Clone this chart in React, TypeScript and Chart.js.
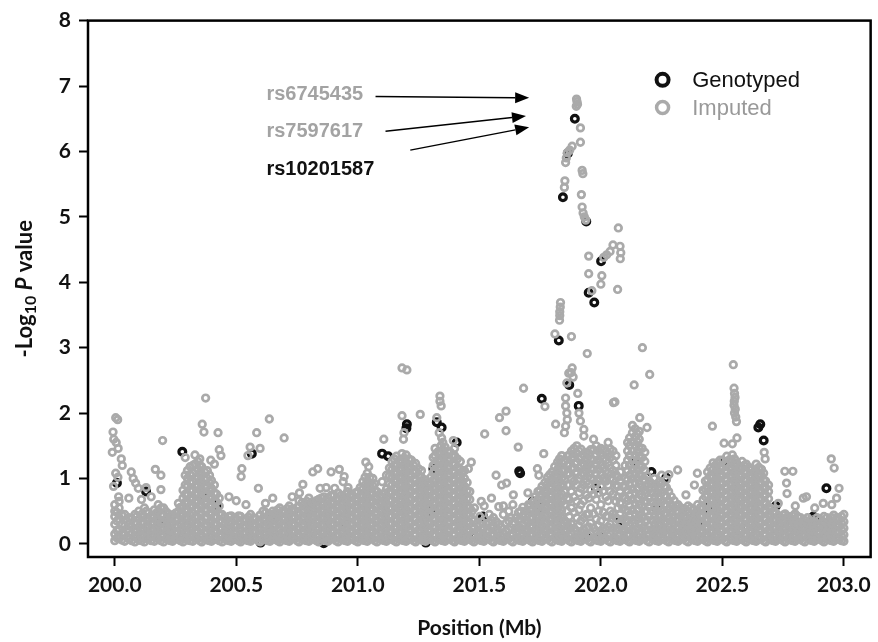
import React, { useEffect, useRef } from "react";
import { Chart, registerables } from "chart.js";

Chart.register(...registerables);

// ---------- Data ----------
// x: position in Mb, y: -log10 P

const xTickValues = [200.0, 200.5, 201.0, 201.5, 202.0, 202.5, 203.0];
const yTickValues = [0, 1, 2, 3, 4, 5, 6, 7, 8];

// Dense background band of imputed SNPs: [position, logP values...]
const bandCols200: number[][] = [
  [200.0, 0.05, 0.15, 0.3, 0.42, 0.5, 0.6],
  [200.018, 0.1, 0.22, 0.38, 0.55, 0.65],
  [200.041, 0.04, 0.14, 0.28, 0.45],
  [200.058, 0.08, 0.18, 0.3, 0.4],
  [200.083, 0.03, 0.12, 0.22, 0.33, 0.45],
  [200.099, 0.06, 0.16, 0.26, 0.38, 0.5],
  [200.122, 0.03, 0.13, 0.22, 0.32, 0.42, 0.55],
  [200.138, 0.07, 0.17, 0.27, 0.36, 0.47],
  [200.163, 0.04, 0.12, 0.21, 0.31, 0.42, 0.52],
  [200.179, 0.08, 0.18, 0.28, 0.38, 0.5, 0.6],
  [200.201, 0.03, 0.13, 0.23, 0.33, 0.44, 0.55],
  [200.222, 0.06, 0.15, 0.25, 0.36, 0.46],
  [200.238, 0.04, 0.12, 0.22, 0.32, 0.42],
  [200.262, 0.07, 0.17, 0.27, 0.38, 0.5, 0.62],
  [200.281, 0.03, 0.13, 0.24, 0.35, 0.46, 0.58, 0.7, 0.82],
  [200.299, 0.06, 0.16, 0.27, 0.38, 0.5, 0.62, 0.75, 0.88, 1.0, 1.12],
  [200.321, 0.04, 0.14, 0.25, 0.36, 0.47, 0.58, 0.7, 0.82, 0.95, 1.08, 1.2],
  [200.342, 0.08, 0.19, 0.3, 0.41, 0.53, 0.65, 0.77, 0.9, 1.02, 1.15, 1.26],
  [200.358, 0.03, 0.13, 0.24, 0.35, 0.46, 0.57, 0.68, 0.8, 0.92, 1.05, 1.18],
  [200.381, 0.06, 0.17, 0.28, 0.4, 0.52, 0.64, 0.76, 0.88, 1.0, 1.12],
  [200.398, 0.04, 0.15, 0.26, 0.37, 0.48, 0.6, 0.72, 0.85, 0.97],
  [200.419, 0.07, 0.18, 0.29, 0.4, 0.52, 0.64, 0.76],
  [200.442, 0.03, 0.13, 0.23, 0.34, 0.45],
  [200.461, 0.06, 0.16, 0.26, 0.37],
  [200.479, 0.04, 0.13, 0.23, 0.33, 0.43],
  [200.502, 0.07, 0.17, 0.27, 0.38],
  [200.518, 0.03, 0.12, 0.22, 0.32, 0.42],
  [200.541, 0.06, 0.16, 0.26, 0.36],
  [200.559, 0.04, 0.14, 0.24, 0.34, 0.45],
  [200.582, 0.08, 0.18, 0.28, 0.38],
  [200.598, 0.03, 0.13, 0.23, 0.33, 0.44],
  [200.621, 0.06, 0.16, 0.26, 0.37, 0.48],
  [200.639, 0.04, 0.14, 0.24, 0.35, 0.45],
  [200.662, 0.07, 0.17, 0.28, 0.38, 0.48],
  [200.679, 0.03, 0.13, 0.23, 0.34, 0.45, 0.55],
  [200.701, 0.06, 0.16, 0.27, 0.38, 0.49],
  [200.718, 0.04, 0.14, 0.25, 0.36, 0.47, 0.58],
  [200.742, 0.08, 0.18, 0.29, 0.4, 0.51],
  [200.758, 0.03, 0.13, 0.24, 0.35, 0.46, 0.57, 0.66],
  [200.781, 0.06, 0.17, 0.28, 0.39, 0.5, 0.61],
  [200.799, 0.04, 0.15, 0.26, 0.37, 0.48, 0.59, 0.7],
  [200.822, 0.07, 0.18, 0.29, 0.4, 0.51, 0.62],
  [200.839, 0.03, 0.14, 0.25, 0.36, 0.47, 0.58, 0.68],
  [200.861, 0.06, 0.17, 0.28, 0.39, 0.5, 0.61, 0.72],
  [200.878, 0.04, 0.15, 0.26, 0.37, 0.48, 0.59, 0.7],
  [200.902, 0.08, 0.19, 0.3, 0.41, 0.52, 0.63, 0.74],
  [200.919, 0.03, 0.14, 0.25, 0.36, 0.47, 0.58, 0.69, 0.78],
  [200.941, 0.06, 0.17, 0.28, 0.39, 0.5, 0.61, 0.72],
  [200.958, 0.04, 0.15, 0.26, 0.37, 0.48, 0.59, 0.7, 0.8],
  [200.981, 0.07, 0.18, 0.29, 0.4, 0.51, 0.62, 0.73],
];

const bandFill200: number[][] = [
  [200.009, 0.09, 0.2, 0.35, 0.48],
  [200.029, 0.06, 0.16, 0.3, 0.44],
  [200.05, 0.1, 0.22, 0.35],
  [200.07, 0.05, 0.15, 0.26, 0.38],
  [200.09, 0.09, 0.19, 0.3, 0.42],
  [200.11, 0.05, 0.11, 0.21, 0.32, 0.45],
  [200.13, 0.08, 0.18, 0.27, 0.38, 0.5],
  [200.15, 0.05, 0.12, 0.22, 0.32, 0.42],
  [200.17, 0.09, 0.17, 0.26, 0.37, 0.47],
  [200.19, 0.05, 0.13, 0.23, 0.33, 0.44, 0.55],
  [200.21, 0.08, 0.18, 0.28, 0.38, 0.5],
  [200.23, 0.05, 0.1, 0.2, 0.3, 0.41],
  [200.25, 0.09, 0.17, 0.27, 0.37, 0.47],
  [200.27, 0.05, 0.12, 0.22, 0.32, 0.44, 0.56],
  [200.29, 0.08, 0.18, 0.29, 0.4, 0.52, 0.64, 0.76, 0.9, 1.05],
  [200.31, 0.05, 0.11, 0.21, 0.32, 0.44, 0.56, 0.68, 0.81, 0.94, 1.06, 1.18],
  [200.33, 0.09, 0.19, 0.3, 0.41, 0.52, 0.64, 0.76, 0.88, 1.0, 1.12, 1.22],
  [200.35, 0.05, 0.13, 0.24, 0.35, 0.47, 0.59, 0.71, 0.83, 0.96, 1.08, 1.2],
  [200.37, 0.08, 0.18, 0.29, 0.4, 0.51, 0.62, 0.74, 0.86, 0.98, 1.1],
  [200.39, 0.05, 0.11, 0.22, 0.33, 0.46, 0.58, 0.7, 0.82, 0.94, 1.05],
  [200.41, 0.09, 0.2, 0.31, 0.42, 0.54, 0.66, 0.78, 0.9],
  [200.43, 0.05, 0.12, 0.23, 0.35, 0.46, 0.58, 0.7],
  [200.45, 0.08, 0.18, 0.29, 0.4],
  [200.47, 0.05, 0.11, 0.21, 0.31, 0.42],
  [200.49, 0.09, 0.18, 0.28, 0.38],
  [200.51, 0.05, 0.12, 0.22, 0.33, 0.43],
  [200.53, 0.08, 0.17, 0.27, 0.37],
  [200.55, 0.05, 0.11, 0.21, 0.31, 0.41],
  [200.57, 0.09, 0.19, 0.29, 0.4],
  [200.59, 0.05, 0.13, 0.23, 0.33],
  [200.61, 0.08, 0.18, 0.28, 0.39, 0.5],
  [200.63, 0.05, 0.11, 0.21, 0.31, 0.42],
  [200.65, 0.09, 0.19, 0.29, 0.4, 0.5],
  [200.67, 0.05, 0.12, 0.22, 0.33, 0.43, 0.52],
  [200.69, 0.08, 0.18, 0.29, 0.4, 0.5],
  [200.71, 0.05, 0.11, 0.21, 0.32, 0.43, 0.54],
  [200.73, 0.09, 0.2, 0.31, 0.42, 0.53],
  [200.75, 0.05, 0.13, 0.24, 0.35, 0.46, 0.56],
  [200.77, 0.08, 0.19, 0.3, 0.41, 0.52, 0.63],
  [200.79, 0.05, 0.12, 0.22, 0.33, 0.44, 0.55, 0.65],
  [200.81, 0.09, 0.2, 0.31, 0.42, 0.53, 0.64],
  [200.83, 0.05, 0.12, 0.23, 0.34, 0.45, 0.56, 0.66],
  [200.85, 0.08, 0.19, 0.3, 0.41, 0.52, 0.63, 0.7],
  [200.87, 0.05, 0.11, 0.22, 0.33, 0.44, 0.55, 0.66],
  [200.89, 0.09, 0.2, 0.31, 0.42, 0.53, 0.64, 0.74],
  [200.91, 0.05, 0.13, 0.24, 0.35, 0.46, 0.57, 0.68],
  [200.93, 0.08, 0.19, 0.3, 0.41, 0.52, 0.63, 0.74],
  [200.95, 0.05, 0.11, 0.22, 0.33, 0.44, 0.55, 0.66, 0.76],
  [200.97, 0.09, 0.2, 0.31, 0.42, 0.53, 0.64, 0.74],
  [200.99, 0.05, 0.13, 0.24, 0.35, 0.46, 0.57, 0.68, 0.78],
];

const bandCols201: number[][] = [
  [201.0, 0.03, 0.14, 0.25, 0.36, 0.47, 0.58, 0.69, 0.8],
  [201.021, 0.06, 0.17, 0.28, 0.39, 0.5, 0.61, 0.72, 0.84, 0.95],
  [201.039, 0.04, 0.15, 0.26, 0.37, 0.48, 0.6, 0.72, 0.84, 0.96, 1.08],
  [201.062, 0.08, 0.19, 0.3, 0.41, 0.53, 0.65, 0.77, 0.89, 1.0],
  [201.079, 0.03, 0.14, 0.25, 0.36, 0.47, 0.58, 0.7, 0.8],
  [201.101, 0.06, 0.17, 0.28, 0.39, 0.5, 0.61, 0.72],
  [201.118, 0.04, 0.15, 0.26, 0.37, 0.48, 0.6, 0.72, 0.84],
  [201.141, 0.07, 0.18, 0.3, 0.42, 0.54, 0.66, 0.78, 0.9, 1.02, 1.14, 1.26],
  [201.159, 0.03, 0.14, 0.26, 0.38, 0.5, 0.62, 0.74, 0.86, 0.98, 1.1, 1.22, 1.34],
  [201.182, 0.06, 0.17, 0.29, 0.41, 0.53, 0.65, 0.77, 0.89, 1.01, 1.13, 1.25, 1.38],
  [201.199, 0.04, 0.16, 0.28, 0.4, 0.52, 0.64, 0.76, 0.88, 1.0, 1.12, 1.24, 1.36],
  [201.221, 0.08, 0.2, 0.32, 0.44, 0.56, 0.68, 0.8, 0.92, 1.04, 1.16, 1.28],
  [201.238, 0.03, 0.15, 0.27, 0.39, 0.51, 0.63, 0.75, 0.87, 0.99, 1.11, 1.23],
  [201.262, 0.06, 0.18, 0.3, 0.42, 0.54, 0.66, 0.78, 0.9, 1.02, 1.12],
  [201.279, 0.04, 0.16, 0.28, 0.4, 0.52, 0.64, 0.76, 0.88, 0.98],
  [201.301, 0.07, 0.19, 0.31, 0.43, 0.55, 0.67, 0.79, 0.9, 1.02],
  [201.318, 0.03, 0.15, 0.27, 0.39, 0.51, 0.63, 0.75, 0.87, 0.99, 1.11, 1.23, 1.35, 1.46],
  [201.342, 0.06, 0.18, 0.3, 0.42, 0.54, 0.66, 0.78, 0.9, 1.02, 1.14, 1.26, 1.38, 1.5],
  [201.359, 0.04, 0.16, 0.28, 0.4, 0.52, 0.64, 0.76, 0.88, 1.0, 1.12, 1.24, 1.36, 1.48],
  [201.381, 0.08, 0.2, 0.32, 0.44, 0.56, 0.68, 0.8, 0.92, 1.04, 1.16, 1.28, 1.4],
  [201.398, 0.03, 0.15, 0.27, 0.39, 0.51, 0.63, 0.75, 0.87, 0.99, 1.11, 1.23, 1.35, 1.46],
  [201.422, 0.06, 0.18, 0.3, 0.42, 0.54, 0.66, 0.78, 0.9, 1.02, 1.14, 1.26],
  [201.439, 0.04, 0.16, 0.28, 0.4, 0.52, 0.64, 0.76, 0.88, 1.0, 1.12],
  [201.461, 0.07, 0.19, 0.31, 0.43, 0.55, 0.68, 0.8],
  [201.478, 0.03, 0.13, 0.24, 0.35],
  [201.502, 0.06, 0.17, 0.3, 0.42],
  [201.519, 0.04, 0.14, 0.25],
  [201.541, 0.08, 0.2, 0.33, 0.45],
  [201.558, 0.03, 0.15, 0.28, 0.4],
  [201.582, 0.06, 0.18, 0.3],
  [201.599, 0.04, 0.16, 0.45, 0.58],
  [201.621, 0.08, 0.22, 0.35, 0.5],
  [201.638, 0.03, 0.14, 0.3, 0.6],
  [201.661, 0.06, 0.2, 0.36, 0.48],
  [201.679, 0.04, 0.17, 0.3, 0.43, 0.56],
  [201.702, 0.07, 0.2, 0.33, 0.46, 0.6],
  [201.719, 0.03, 0.15, 0.28, 0.4, 0.52, 0.64],
  [201.741, 0.06, 0.18, 0.3, 0.42, 0.55, 0.68, 0.8],
  [201.758, 0.04, 0.16, 0.28, 0.4, 0.52, 0.64, 0.76, 0.88],
  [201.781, 0.08, 0.2, 0.32, 0.44, 0.56, 0.68, 0.8, 0.92, 1.02],
  [201.799, 0.03, 0.15, 0.27, 0.39, 0.51, 0.63, 0.75, 0.87, 0.99, 1.1],
  [201.822, 0.06, 0.18, 0.3, 0.42, 0.54, 0.66, 0.78, 0.9, 1.02, 1.14, 1.25],
  [201.839, 0.04, 0.16, 0.28, 0.4, 0.52, 0.64, 0.76, 0.88, 1.0, 1.12, 1.24, 1.35],
  [201.862, 0.08, 0.2, 0.32, 0.5, 0.7, 0.9, 1.06, 1.2, 1.34],
  [201.879, 0.03, 0.15, 0.3, 0.55, 0.8, 1.0, 1.15, 1.3, 1.42],
  [201.901, 0.06, 0.2, 0.4, 0.65, 0.9, 1.1, 1.25, 1.38, 1.5],
  [201.918, 0.04, 0.18, 0.35, 0.6, 0.85, 1.05, 1.2, 1.33, 1.45],
  [201.941, 0.08, 0.24, 0.45, 0.75, 0.95, 1.12, 1.26, 1.4],
  [201.958, 0.03, 0.16, 0.32, 0.55, 0.82, 1.0, 1.15, 1.3, 1.44],
  [201.981, 0.06, 0.2, 0.38, 0.68, 0.92, 1.08, 1.22, 1.36, 1.5],
];

const bandFill201: number[][] = [
  [201.01, 0.08, 0.19, 0.3, 0.41, 0.52, 0.63, 0.74, 0.86],
  [201.03, 0.05, 0.11, 0.22, 0.33, 0.44, 0.55, 0.66, 0.78, 0.9, 1.02],
  [201.05, 0.09, 0.2, 0.31, 0.42, 0.54, 0.66, 0.78, 0.9, 1.02],
  [201.07, 0.05, 0.13, 0.24, 0.35, 0.46, 0.58, 0.7, 0.82, 0.92],
  [201.09, 0.08, 0.19, 0.3, 0.41, 0.52, 0.63, 0.74],
  [201.11, 0.05, 0.11, 0.22, 0.33, 0.44, 0.55, 0.66, 0.78],
  [201.13, 0.09, 0.2, 0.32, 0.44, 0.56, 0.68, 0.8, 0.92, 1.04, 1.16],
  [201.15, 0.05, 0.12, 0.24, 0.36, 0.48, 0.6, 0.72, 0.84, 0.96, 1.08, 1.2, 1.3],
  [201.17, 0.08, 0.2, 0.32, 0.44, 0.56, 0.68, 0.8, 0.92, 1.04, 1.16, 1.28],
  [201.19, 0.05, 0.11, 0.23, 0.35, 0.47, 0.59, 0.71, 0.83, 0.95, 1.07, 1.19, 1.31],
  [201.21, 0.09, 0.22, 0.34, 0.46, 0.58, 0.7, 0.82, 0.94, 1.06, 1.18, 1.3],
  [201.23, 0.05, 0.14, 0.26, 0.38, 0.5, 0.62, 0.74, 0.86, 0.98, 1.1, 1.2],
  [201.25, 0.08, 0.21, 0.33, 0.45, 0.57, 0.69, 0.81, 0.93, 1.05, 1.15],
  [201.27, 0.05, 0.12, 0.24, 0.36, 0.48, 0.6, 0.72, 0.84, 0.94],
  [201.29, 0.09, 0.22, 0.34, 0.46, 0.58, 0.7, 0.82, 0.94],
  [201.31, 0.05, 0.13, 0.25, 0.37, 0.49, 0.61, 0.73, 0.85, 0.97, 1.09, 1.2, 1.32],
  [201.33, 0.08, 0.21, 0.33, 0.45, 0.57, 0.69, 0.81, 0.93, 1.05, 1.17, 1.29, 1.41],
  [201.35, 0.05, 0.12, 0.24, 0.36, 0.48, 0.6, 0.72, 0.84, 0.96, 1.08, 1.2, 1.32, 1.44],
  [201.37, 0.09, 0.22, 0.34, 0.46, 0.58, 0.7, 0.82, 0.94, 1.06, 1.18, 1.3, 1.42],
  [201.39, 0.05, 0.14, 0.26, 0.38, 0.5, 0.62, 0.74, 0.86, 0.98, 1.1, 1.22, 1.34],
  [201.41, 0.08, 0.21, 0.33, 0.45, 0.57, 0.69, 0.81, 0.93, 1.05, 1.17, 1.3],
  [201.43, 0.05, 0.12, 0.24, 0.36, 0.48, 0.6, 0.72, 0.84, 0.96, 1.08],
  [201.45, 0.09, 0.22, 0.34, 0.46, 0.58, 0.7, 0.82, 0.94],
  [201.47, 0.05, 0.14, 0.26, 0.38, 0.5],
  [201.49, 0.08, 0.19, 0.3],
  [201.51, 0.05, 0.11, 0.22, 0.34],
  [201.53, 0.09, 0.2, 0.31],
  [201.55, 0.05, 0.12, 0.24, 0.36],
  [201.57, 0.09, 0.22, 0.34],
  [201.59, 0.05, 0.11, 0.25],
  [201.61, 0.08, 0.2, 0.32],
  [201.63, 0.05, 0.12, 0.25, 0.4],
  [201.65, 0.09, 0.24, 0.4],
  [201.67, 0.05, 0.12, 0.24, 0.38, 0.5],
  [201.69, 0.08, 0.22, 0.36, 0.5],
  [201.71, 0.05, 0.12, 0.25, 0.38, 0.5, 0.6],
  [201.73, 0.09, 0.22, 0.35, 0.48, 0.6, 0.72],
  [201.75, 0.05, 0.12, 0.24, 0.36, 0.48, 0.6, 0.72, 0.82],
  [201.77, 0.08, 0.22, 0.34, 0.46, 0.58, 0.7, 0.82, 0.94],
  [201.79, 0.05, 0.12, 0.24, 0.36, 0.48, 0.6, 0.72, 0.84, 0.96, 1.06],
  [201.81, 0.09, 0.21, 0.33, 0.45, 0.57, 0.69, 0.81, 0.93, 1.05, 1.18],
  [201.83, 0.05, 0.12, 0.24, 0.36, 0.48, 0.6, 0.72, 0.84, 0.96, 1.08, 1.2, 1.3],
  [201.85, 0.08, 0.22, 0.36, 0.6, 0.8, 0.98, 1.12, 1.26],
  [201.87, 0.05, 0.12, 0.25, 0.42, 0.68, 0.9, 1.08, 1.22, 1.36],
  [201.89, 0.09, 0.24, 0.48, 0.72, 0.96, 1.16, 1.32, 1.46],
  [201.91, 0.05, 0.12, 0.28, 0.52, 0.78, 1.0, 1.16, 1.3, 1.42],
  [201.93, 0.08, 0.22, 0.4, 0.66, 0.9, 1.08, 1.22, 1.36],
  [201.95, 0.05, 0.12, 0.26, 0.46, 0.7, 0.92, 1.08, 1.22, 1.38],
  [201.97, 0.09, 0.24, 0.46, 0.76, 0.98, 1.14, 1.28, 1.44],
  [201.99, 0.05, 0.12, 0.28, 0.5, 0.78, 0.98, 1.14, 1.28, 1.42],
];

const bandCols202: number[][] = [
  [202.0, 0.04, 0.18, 0.35, 0.6, 0.88, 1.05, 1.2, 1.34, 1.46],
  [202.021, 0.08, 0.22, 0.42, 0.72, 0.96, 1.12, 1.28, 1.42],
  [202.039, 0.03, 0.15, 0.3, 0.5, 0.8, 1.0, 1.16, 1.32, 1.45],
  [202.062, 0.06, 0.2, 0.4, 0.65, 0.9, 1.06, 1.2, 1.35],
  [202.079, 0.04, 0.16, 0.3, 0.45, 0.62, 0.8, 0.95],
  [202.101, 0.07, 0.2, 0.36, 0.52, 0.7, 0.88, 1.0],
  [202.118, 0.03, 0.15, 0.28, 0.42, 0.58, 0.74, 0.9, 1.05, 1.2, 1.35, 1.5, 1.62],
  [202.141, 0.06, 0.18, 0.32, 0.46, 0.62, 0.78, 0.94, 1.08, 1.22, 1.36, 1.5, 1.64, 1.76],
  [202.158, 0.04, 0.16, 0.3, 0.44, 0.6, 0.76, 0.92, 1.06, 1.2, 1.34, 1.48, 1.6, 1.72],
  [202.181, 0.08, 0.2, 0.34, 0.5, 0.66, 0.82, 0.98, 1.12, 1.26, 1.4],
  [202.199, 0.03, 0.15, 0.28, 0.42, 0.56, 0.7, 0.84, 0.96],
  [202.222, 0.06, 0.18, 0.3, 0.44, 0.58, 0.72, 0.86],
  [202.238, 0.04, 0.16, 0.28, 0.42, 0.56, 0.7, 0.84, 0.94],
  [202.261, 0.07, 0.19, 0.32, 0.46, 0.6, 0.74, 0.88],
  [202.279, 0.03, 0.15, 0.27, 0.4, 0.53, 0.66, 0.8],
  [202.302, 0.06, 0.18, 0.3, 0.42, 0.55, 0.66],
  [202.318, 0.04, 0.15, 0.26, 0.38, 0.5, 0.6],
  [202.341, 0.08, 0.19, 0.3, 0.42, 0.54],
  [202.359, 0.03, 0.14, 0.25, 0.36, 0.48, 0.58],
  [202.382, 0.06, 0.17, 0.28, 0.4, 0.52],
  [202.398, 0.04, 0.15, 0.26, 0.38, 0.5, 0.6],
  [202.421, 0.07, 0.18, 0.3, 0.42, 0.55, 0.68],
  [202.439, 0.03, 0.14, 0.26, 0.38, 0.5, 0.62, 0.74, 0.86, 0.98, 1.1],
  [202.462, 0.06, 0.18, 0.3, 0.42, 0.54, 0.66, 0.78, 0.9, 1.02, 1.14, 1.24],
  [202.479, 0.04, 0.16, 0.28, 0.4, 0.52, 0.64, 0.76, 0.88, 1.0, 1.12, 1.24],
  [202.501, 0.08, 0.2, 0.32, 0.44, 0.56, 0.68, 0.8, 0.92, 1.04, 1.16, 1.28],
  [202.518, 0.03, 0.15, 0.27, 0.39, 0.51, 0.63, 0.75, 0.87, 0.99, 1.11, 1.23, 1.34],
  [202.541, 0.06, 0.18, 0.3, 0.42, 0.54, 0.66, 0.78, 0.9, 1.02, 1.14, 1.26, 1.36],
  [202.559, 0.04, 0.16, 0.28, 0.4, 0.52, 0.64, 0.76, 0.88, 1.0, 1.12, 1.24],
  [202.581, 0.07, 0.19, 0.31, 0.43, 0.55, 0.67, 0.79, 0.91, 1.03, 1.15, 1.26],
  [202.598, 0.03, 0.15, 0.27, 0.39, 0.51, 0.63, 0.75, 0.87, 0.99, 1.11, 1.22],
  [202.622, 0.06, 0.18, 0.3, 0.42, 0.54, 0.66, 0.78, 0.9, 1.02, 1.14],
  [202.639, 0.04, 0.16, 0.28, 0.4, 0.52, 0.64, 0.76, 0.88, 1.0, 1.12, 1.22],
  [202.661, 0.08, 0.2, 0.32, 0.44, 0.56, 0.68, 0.8, 0.92, 1.04, 1.14],
  [202.678, 0.03, 0.15, 0.27, 0.39, 0.51, 0.63, 0.75, 0.86, 0.96],
  [202.702, 0.06, 0.18, 0.3, 0.42, 0.54],
  [202.719, 0.04, 0.15, 0.26, 0.38, 0.48],
  [202.741, 0.07, 0.18, 0.29, 0.4],
  [202.758, 0.03, 0.14, 0.25, 0.36, 0.46],
  [202.781, 0.06, 0.17, 0.28, 0.39],
  [202.799, 0.04, 0.15, 0.26, 0.37, 0.46],
  [202.822, 0.08, 0.19, 0.3, 0.4],
  [202.839, 0.03, 0.14, 0.25, 0.36],
  [202.861, 0.06, 0.16, 0.26, 0.36],
  [202.878, 0.04, 0.14, 0.24, 0.34],
  [202.902, 0.07, 0.17, 0.27, 0.38],
  [202.918, 0.03, 0.13, 0.23, 0.33, 0.42],
  [202.941, 0.06, 0.16, 0.26, 0.36],
  [202.958, 0.04, 0.14, 0.24, 0.34, 0.44],
  [202.981, 0.07, 0.17, 0.27, 0.37],
  [203.0, 0.04, 0.14, 0.24, 0.34, 0.45],
];

const bandFill202: number[][] = [
  [202.01, 0.08, 0.24, 0.48, 0.8, 1.0, 1.16, 1.3, 1.44],
  [202.03, 0.05, 0.12, 0.26, 0.42, 0.66, 0.9, 1.08, 1.24, 1.38],
  [202.05, 0.09, 0.24, 0.46, 0.76, 0.98, 1.12, 1.28, 1.42],
  [202.07, 0.05, 0.12, 0.24, 0.38, 0.55, 0.72, 0.88, 1.02],
  [202.09, 0.08, 0.22, 0.38, 0.54, 0.72, 0.88],
  [202.11, 0.05, 0.12, 0.24, 0.36, 0.5, 0.66, 0.82, 0.98, 1.12, 1.28, 1.42, 1.55],
  [202.13, 0.09, 0.22, 0.36, 0.52, 0.68, 0.84, 1.0, 1.14, 1.28, 1.42, 1.56, 1.7],
  [202.15, 0.05, 0.12, 0.24, 0.38, 0.52, 0.68, 0.84, 1.0, 1.14, 1.28, 1.42, 1.56, 1.68],
  [202.17, 0.08, 0.24, 0.4, 0.56, 0.72, 0.88, 1.04, 1.18, 1.32, 1.46],
  [202.19, 0.05, 0.12, 0.22, 0.36, 0.5, 0.64, 0.78, 0.9, 1.04],
  [202.21, 0.09, 0.22, 0.36, 0.5, 0.64, 0.78, 0.92],
  [202.23, 0.05, 0.12, 0.24, 0.36, 0.5, 0.64, 0.78, 0.9],
  [202.25, 0.08, 0.22, 0.36, 0.5, 0.64, 0.78, 0.92],
  [202.27, 0.05, 0.12, 0.22, 0.34, 0.47, 0.6, 0.73, 0.86],
  [202.29, 0.09, 0.22, 0.35, 0.48, 0.6, 0.72],
  [202.31, 0.05, 0.12, 0.24, 0.36, 0.48, 0.58],
  [202.33, 0.08, 0.2, 0.32, 0.44, 0.55],
  [202.35, 0.05, 0.11, 0.2, 0.31, 0.42, 0.52],
  [202.37, 0.09, 0.2, 0.32, 0.44, 0.55],
  [202.39, 0.05, 0.12, 0.22, 0.34, 0.46],
  [202.41, 0.08, 0.2, 0.32, 0.44, 0.56],
  [202.43, 0.05, 0.12, 0.24, 0.36, 0.48, 0.6, 0.72, 0.84, 0.96],
  [202.45, 0.09, 0.2, 0.32, 0.44, 0.56, 0.68, 0.8, 0.92, 1.04, 1.16],
  [202.47, 0.05, 0.12, 0.24, 0.36, 0.48, 0.6, 0.72, 0.84, 0.96, 1.08, 1.2],
  [202.49, 0.08, 0.22, 0.34, 0.46, 0.58, 0.7, 0.82, 0.94, 1.06, 1.18, 1.28],
  [202.51, 0.05, 0.14, 0.26, 0.38, 0.5, 0.62, 0.74, 0.86, 0.98, 1.1, 1.22],
  [202.53, 0.09, 0.21, 0.33, 0.45, 0.57, 0.69, 0.81, 0.93, 1.05, 1.17, 1.29],
  [202.55, 0.05, 0.12, 0.24, 0.36, 0.48, 0.6, 0.72, 0.84, 0.96, 1.08, 1.2, 1.3],
  [202.57, 0.08, 0.22, 0.34, 0.46, 0.58, 0.7, 0.82, 0.94, 1.06, 1.18],
  [202.59, 0.05, 0.13, 0.25, 0.37, 0.49, 0.61, 0.73, 0.85, 0.97, 1.09, 1.2],
  [202.61, 0.09, 0.21, 0.33, 0.45, 0.57, 0.69, 0.81, 0.93, 1.05, 1.17],
  [202.63, 0.05, 0.12, 0.24, 0.36, 0.48, 0.6, 0.72, 0.84, 0.96, 1.08],
  [202.65, 0.08, 0.22, 0.34, 0.46, 0.58, 0.7, 0.82, 0.94, 1.06, 1.17],
  [202.67, 0.05, 0.14, 0.26, 0.38, 0.5, 0.62, 0.74, 0.86, 0.98, 1.08],
  [202.69, 0.09, 0.21, 0.33, 0.45, 0.57, 0.69, 0.8, 0.9],
  [202.71, 0.05, 0.12, 0.24, 0.36, 0.48],
  [202.73, 0.08, 0.2, 0.32, 0.43],
  [202.75, 0.05, 0.12, 0.22, 0.33, 0.44],
  [202.77, 0.09, 0.2, 0.31, 0.42],
  [202.79, 0.05, 0.11, 0.22, 0.33, 0.43],
  [202.81, 0.08, 0.2, 0.31, 0.42],
  [202.83, 0.05, 0.12, 0.22, 0.32],
  [202.85, 0.09, 0.2, 0.31, 0.4],
  [202.87, 0.05, 0.11, 0.21, 0.31],
  [202.89, 0.08, 0.19, 0.3, 0.4],
  [202.91, 0.05, 0.12, 0.22, 0.32],
  [202.93, 0.09, 0.2, 0.31, 0.4],
  [202.95, 0.05, 0.11, 0.21, 0.31, 0.4],
  [202.97, 0.08, 0.19, 0.3, 0.4],
  [202.99, 0.05, 0.12, 0.22, 0.32, 0.42],
];

// Scattered imputed SNPs above the band: [position, logP]
const imputedLeft: number[][] = [
  [200.004, 1.93], [200.012, 1.9], [199.993, 1.71], [199.996, 1.6], [200.006, 1.55], [200.014, 1.46],
  [199.99, 1.4], [200.027, 1.3], [200.031, 1.2], [200.004, 1.08], [200.013, 1.02], [199.995, 0.88],
  [200.068, 1.1], [200.076, 1.0], [200.086, 0.93], [200.097, 0.85], [200.167, 1.14], [200.19, 1.05],
  [200.129, 0.86], [200.19, 0.83], [200.016, 0.72], [200.058, 0.7], [200.11, 0.68], [200.15, 0.72],
  [200.197, 1.58], [200.36, 1.83], [200.367, 1.71], [200.374, 2.23], [200.425, 1.7], [200.43, 1.44],
  [200.437, 1.35], [200.29, 1.32], [200.33, 1.36], [200.35, 1.3], [200.395, 1.28], [200.41, 1.22],
  [200.636, 1.91], [200.584, 1.7], [200.697, 1.62], [200.598, 1.46], [200.557, 1.48], [200.548, 1.35],
  [200.523, 1.15], [200.52, 1.03], [200.591, 0.85], [200.47, 0.72], [200.5, 0.66], [200.54, 0.6],
  [200.62, 0.62], [200.65, 0.7], [200.774, 0.91], [200.835, 1.15], [200.815, 1.1], [200.89, 1.1],
  [200.924, 1.14], [200.944, 1.03], [200.94, 0.95], [200.845, 0.85], [200.87, 0.86], [200.905, 0.85],
  [200.96, 0.86], [201.033, 1.25], [201.045, 1.18], [200.73, 0.72], [200.76, 0.78],
];

const imputedMid: number[][] = [
  [201.182, 2.69], [201.202, 2.66], [201.682, 2.38], [201.338, 2.26], [201.338, 2.18], [201.343, 2.11],
  [201.257, 1.98], [201.182, 1.96], [201.19, 1.7], [201.188, 1.6], [201.325, 1.93], [201.107, 1.6],
  [201.335, 1.7], [201.345, 1.62], [201.35, 1.55], [201.393, 1.58], [201.467, 1.25], [201.455, 1.15],
  [201.522, 1.68], [201.583, 1.93], [201.61, 2.03], [201.61, 1.73], [201.66, 1.48], [201.77, 2.1],
  [201.765, 1.38], [201.814, 1.83], [201.739, 1.15], [201.745, 1.05], [201.569, 1.05], [201.592, 0.9],
  [201.612, 0.93], [201.508, 0.65], [201.55, 0.7], [201.58, 0.57], [201.868, 2.61], [201.86, 2.46],
  [201.855, 2.23], [201.855, 2.11], [201.86, 2.0], [201.862, 1.9], [201.855, 1.8], [201.85, 1.7],
  [201.905, 2.3], [201.91, 2.0], [201.916, 1.88], [201.93, 1.75], [201.93, 1.65], [202.052, 2.16],
  [201.48, 0.55], [201.52, 0.58], [201.64, 0.75], [201.7, 0.78], [201.1, 0.95], [201.118, 1.05],
];

const imputedRight: number[][] = [
  [202.545, 2.74], [202.201, 2.59], [202.137, 2.43], [202.058, 2.17], [202.548, 2.38], [202.55, 2.3],
  [202.552, 2.24], [202.549, 2.18], [202.548, 2.12], [202.553, 2.06], [202.55, 2.0], [202.555, 1.94],
  [202.558, 1.87], [202.459, 1.8], [202.507, 1.54], [202.541, 1.53], [202.56, 1.62], [202.672, 1.4],
  [202.676, 1.3], [202.16, 1.93], [202.13, 1.81], [202.19, 1.78], [202.948, 1.3], [202.96, 1.16],
  [202.757, 1.11], [202.79, 1.11], [202.833, 0.7], [202.846, 0.72], [202.316, 1.13], [202.385, 0.9],
  [202.397, 1.08], [202.764, 0.93], [202.766, 0.77], [202.98, 0.85], [202.97, 0.7], [202.95, 0.6],
  [202.915, 0.62], [202.88, 0.55], [202.73, 0.62], [202.8, 0.58], [202.35, 0.75], [202.42, 0.82],
  [202.08, 1.1], [202.1, 1.2], [202.22, 1.0], [202.25, 1.05], [202.27, 0.98], [202.03, 1.55],
  [201.97, 1.6], [202.28, 1.06],
];

// The association peak near 201.9 Mb
const imputedPeak: number[][] = [
  [201.9, 6.8], [201.902, 6.76], [201.904, 6.72], [201.899, 6.69], [201.916, 6.36], [201.916, 6.14],
  [201.882, 6.08], [201.872, 6.02], [201.862, 5.98], [201.858, 5.9], [201.855, 5.83], [201.923, 5.71],
  [201.926, 5.66], [201.852, 5.55], [201.85, 5.45], [201.92, 5.34], [201.923, 5.15], [201.927, 5.06],
  [201.932, 5.0], [201.938, 4.95], [202.072, 4.83], [202.05, 4.57], [202.079, 4.55], [202.082, 4.45],
  [202.08, 4.36], [202.038, 4.47], [202.024, 4.42], [202.012, 4.38], [201.95, 4.4], [201.95, 4.13],
  [202.004, 4.1], [202.0, 3.97], [201.963, 3.87], [202.069, 3.89], [201.834, 3.69], [201.833, 3.62],
  [201.831, 3.55], [201.831, 3.49], [201.83, 3.42], [201.811, 3.21], [201.879, 3.17], [201.944, 2.91],
  [202.171, 3.0], [201.882, 2.69], [201.878, 2.62], [201.886, 2.55],
];

// Genotyped SNPs: [position, logP]
const genotyped: number[][] = [
  [201.893, 6.5], [201.864, 5.97], [201.844, 5.3], [201.94, 4.93], [202.001, 4.32], [201.95, 3.84],
  [201.973, 3.69], [201.827, 3.11], [200.278, 1.41], [200.009, 0.93], [200.129, 0.8], [200.564, 1.38],
  [201.202, 1.83], [201.2, 1.77], [201.325, 1.86], [201.345, 1.78], [201.1, 1.38], [201.125, 1.34],
  [201.757, 2.22], [201.664, 1.11], [201.668, 1.08], [201.909, 2.11], [201.87, 2.43], [202.507, 1.24],
  [202.208, 1.1], [202.269, 1.01], [202.656, 1.83], [202.648, 1.78], [202.67, 1.58], [202.928, 0.85],
  [202.874, 0.42], [202.878, 0.36], [201.407, 1.55], [201.311, 1.15], [201.515, 0.42], [202.14, 1.25],
  [202.44, 0.55], [200.36, 0.8], [200.37, 0.72], [200.42, 0.6], [200.65, 0.42], [200.95, 0.25],
  [201.17, 0.55], [201.3, 0.5], [201.42, 0.3], [201.48, 0.12], [201.72, 0.65], [201.75, 0.55],
  [201.98, 0.85], [202.23, 0.55], [202.4, 0.3], [202.6, 0.25], [202.72, 0.58], [202.08, 0.35],
  [200.18, 0.3], [200.6, 0.02], [200.86, 0.01], [201.28, 0.02], [202.0, 0.1], [201.94, 0.1],
];

// Labels of the top SNPs and legend
const snpLabels = ["rs6745435", "rs7597617", "rs10201587"];
const legendLabels = ["Genotyped", "Imputed"];

// ---------- Styling / layout (not data) ----------
const GRAY = "#aaaaaa";
const BLACK = "#111111";
const AXIS_FONT = "Lato, 'Liberation Sans', sans-serif";
const LABEL_FONT = "'Liberation Sans', Arial, sans-serif";

const labelAnchor = { x: 200.624, ys: [6.878, 6.31, 5.731] };
const labelColors = ["#a3a3a3", "#a3a3a3", "#111111"];
const arrowStarts = [[201.073, 6.84], [201.114, 6.31], [201.216, 6.02]];
const arrowTips = [[201.705, 6.82], [201.692, 6.54], [201.705, 6.37]];
const legendPos = { ringX: 202.254, textX: 202.376, ys: [7.094, 6.672] };

function toPoints(cols: number[][]) {
  const out: { x: number; y: number }[] = [];
  cols.forEach((c) => {
    for (let i = 1; i < c.length; i++) out.push({ x: c[0], y: c[i] });
  });
  return out;
}
function pairs(arr: number[][]) {
  return arr.map((p) => ({ x: p[0], y: p[1] }));
}

const overlayPlugin = {
  id: "overlay",
  afterDatasetsDraw(chart: any) {
    const { ctx, chartArea: ca, scales } = chart;
    const xs = scales.x;
    const ys = scales.y;
    ctx.save();
    // frame
    ctx.strokeStyle = "#000";
    ctx.lineWidth = 2.5;
    ctx.strokeRect(ca.left, ca.top, ca.right - ca.left, ca.bottom - ca.top);

    // SNP labels
    ctx.font = `bold 20px ${LABEL_FONT}`;
    ctx.textAlign = "left";
    ctx.textBaseline = "middle";
    snpLabels.forEach((t, i) => {
      ctx.fillStyle = labelColors[i];
      ctx.fillText(t, xs.getPixelForValue(labelAnchor.x), ys.getPixelForValue(labelAnchor.ys[i]));
    });

    // arrows
    ctx.strokeStyle = "#000";
    ctx.fillStyle = "#000";
    ctx.lineWidth = 1.5;
    arrowStarts.forEach((s, i) => {
      const x0 = xs.getPixelForValue(s[0]);
      const y0 = ys.getPixelForValue(s[1]);
      const x1 = xs.getPixelForValue(arrowTips[i][0]);
      const y1 = ys.getPixelForValue(arrowTips[i][1]);
      const ang = Math.atan2(y1 - y0, x1 - x0);
      const L = 14;
      const W = 5.5;
      const bx = x1 - L * Math.cos(ang);
      const by = y1 - L * Math.sin(ang);
      ctx.beginPath();
      ctx.moveTo(x0, y0);
      ctx.lineTo(bx, by);
      ctx.stroke();
      ctx.beginPath();
      ctx.moveTo(x1, y1);
      ctx.lineTo(bx + W * Math.sin(ang), by - W * Math.cos(ang));
      ctx.lineTo(bx - W * Math.sin(ang), by + W * Math.cos(ang));
      ctx.closePath();
      ctx.fill();
    });

    // legend
    const lcol = [BLACK, GRAY];
    const ltext = ["#111111", "#999999"];
    const lw = [4, 3.5];
    legendLabels.forEach((t, i) => {
      const rx = xs.getPixelForValue(legendPos.ringX);
      const ry = ys.getPixelForValue(legendPos.ys[i]);
      ctx.beginPath();
      ctx.strokeStyle = lcol[i];
      ctx.lineWidth = lw[i];
      ctx.arc(rx, ry, 6, 0, Math.PI * 2);
      ctx.stroke();
      ctx.font = `22px ${LABEL_FONT}`;
      ctx.fillStyle = ltext[i];
      ctx.textAlign = "left";
      ctx.textBaseline = "middle";
      ctx.fillText(t, xs.getPixelForValue(legendPos.textX), ry + 1);
    });

    // X title
    ctx.fillStyle = "#111";
    ctx.font = `bold 21px ${AXIS_FONT}`;
    ctx.textAlign = "center";
    ctx.textBaseline = "middle";
    ctx.fillText("Position (Mb)", (ca.left + ca.right) / 2, 628);

    // Y title (rotated, with subscript and italic P)
    const parts = [
      { t: "-Log", f: `bold 22px ${AXIS_FONT}`, dy: 0 },
      { t: "10", f: `bold 16px ${AXIS_FONT}`, dy: 6 },
      { t: " ", f: `bold 22px ${AXIS_FONT}`, dy: 0 },
      { t: "P", f: `italic bold 22px ${AXIS_FONT}`, dy: 0 },
      { t: " value", f: `bold 22px ${AXIS_FONT}`, dy: 0 },
    ];
    let total = 0;
    parts.forEach((p) => {
      ctx.font = p.f;
      total += ctx.measureText(p.t).width;
    });
    ctx.translate(25, (ca.top + ca.bottom) / 2);
    ctx.rotate(-Math.PI / 2);
    ctx.textAlign = "left";
    let cx = -total / 2;
    parts.forEach((p) => {
      ctx.font = p.f;
      ctx.fillText(p.t, cx, p.dy);
      cx += ctx.measureText(p.t).width;
    });
    ctx.restore();
  },
};

export default function App() {
  const ref = useRef<HTMLCanvasElement | null>(null);

  useEffect(() => {
    document.body.style.margin = "0";
    const canvas = ref.current;
    if (!canvas) return;
    const imputed = [
      ...toPoints(bandCols200),
      ...toPoints(bandFill200),
      ...toPoints(bandCols201),
      ...toPoints(bandFill201),
      ...toPoints(bandCols202),
      ...toPoints(bandFill202),
      ...pairs(imputedLeft),
      ...pairs(imputedMid),
      ...pairs(imputedRight),
      ...pairs(imputedPeak),
    ];
    const chart = new Chart(canvas, {
      type: "scatter",
      data: {
        datasets: [
          {
            label: legendLabels[1],
            data: imputed,
            order: 0,
            pointStyle: "circle",
            pointRadius: 3.3,
            pointBorderWidth: 2.7,
            borderColor: GRAY,
            backgroundColor: "rgba(0,0,0,0)",
          },
          {
            label: legendLabels[0],
            data: pairs(genotyped),
            order: 1,
            pointStyle: "circle",
            pointRadius: 3.4,
            pointBorderWidth: 3.2,
            borderColor: BLACK,
            backgroundColor: "rgba(0,0,0,0)",
          },
        ],
      },
      options: {
        responsive: false,
        animation: false,
        devicePixelRatio: 1,
        layout: { padding: { top: 13, right: 2, left: 0, bottom: 0 } },
        plugins: {
          legend: { display: false },
          tooltip: { enabled: false },
        },
        scales: {
          x: {
            type: "linear",
            min: 199.89,
            max: 203.11,
            afterBuildTicks: (scale: any) => {
              scale.ticks = xTickValues.map((v) => ({ value: v }));
            },
            afterFit: (scale: any) => {
              scale.height = 85;
            },
            ticks: {
              callback: (v: any) => Number(v).toFixed(1),
              font: { family: AXIS_FONT, weight: "bold", size: 21 },
              color: "#111",
              padding: 7,
              maxRotation: 0,
              autoSkip: false,
            },
            grid: {
              drawOnChartArea: false,
              drawTicks: true,
              tickLength: 9,
              tickWidth: 2,
              tickColor: "#000",
            },
            border: { display: false },
          },
          y: {
            type: "linear",
            min: -0.2,
            max: 8,
            afterBuildTicks: (scale: any) => {
              scale.ticks = yTickValues.map((v) => ({ value: v }));
            },
            afterFit: (scale: any) => {
              scale.width = 88;
            },
            ticks: {
              callback: (v: any) => String(v),
              font: { family: AXIS_FONT, weight: "bold", size: 21 },
              color: "#111",
              padding: 8,
              autoSkip: false,
            },
            grid: {
              drawOnChartArea: false,
              drawTicks: true,
              tickLength: 9,
              tickWidth: 2,
              tickColor: "#000",
            },
            border: { display: false },
          },
        },
      },
      plugins: [overlayPlugin],
    });
    return () => chart.destroy();
  }, []);

  return (
    <div style={{ width: 878, height: 642, background: "#fff" }}>
      <canvas ref={ref} width={878} height={642} style={{ display: "block" }} />
    </div>
  );
}
